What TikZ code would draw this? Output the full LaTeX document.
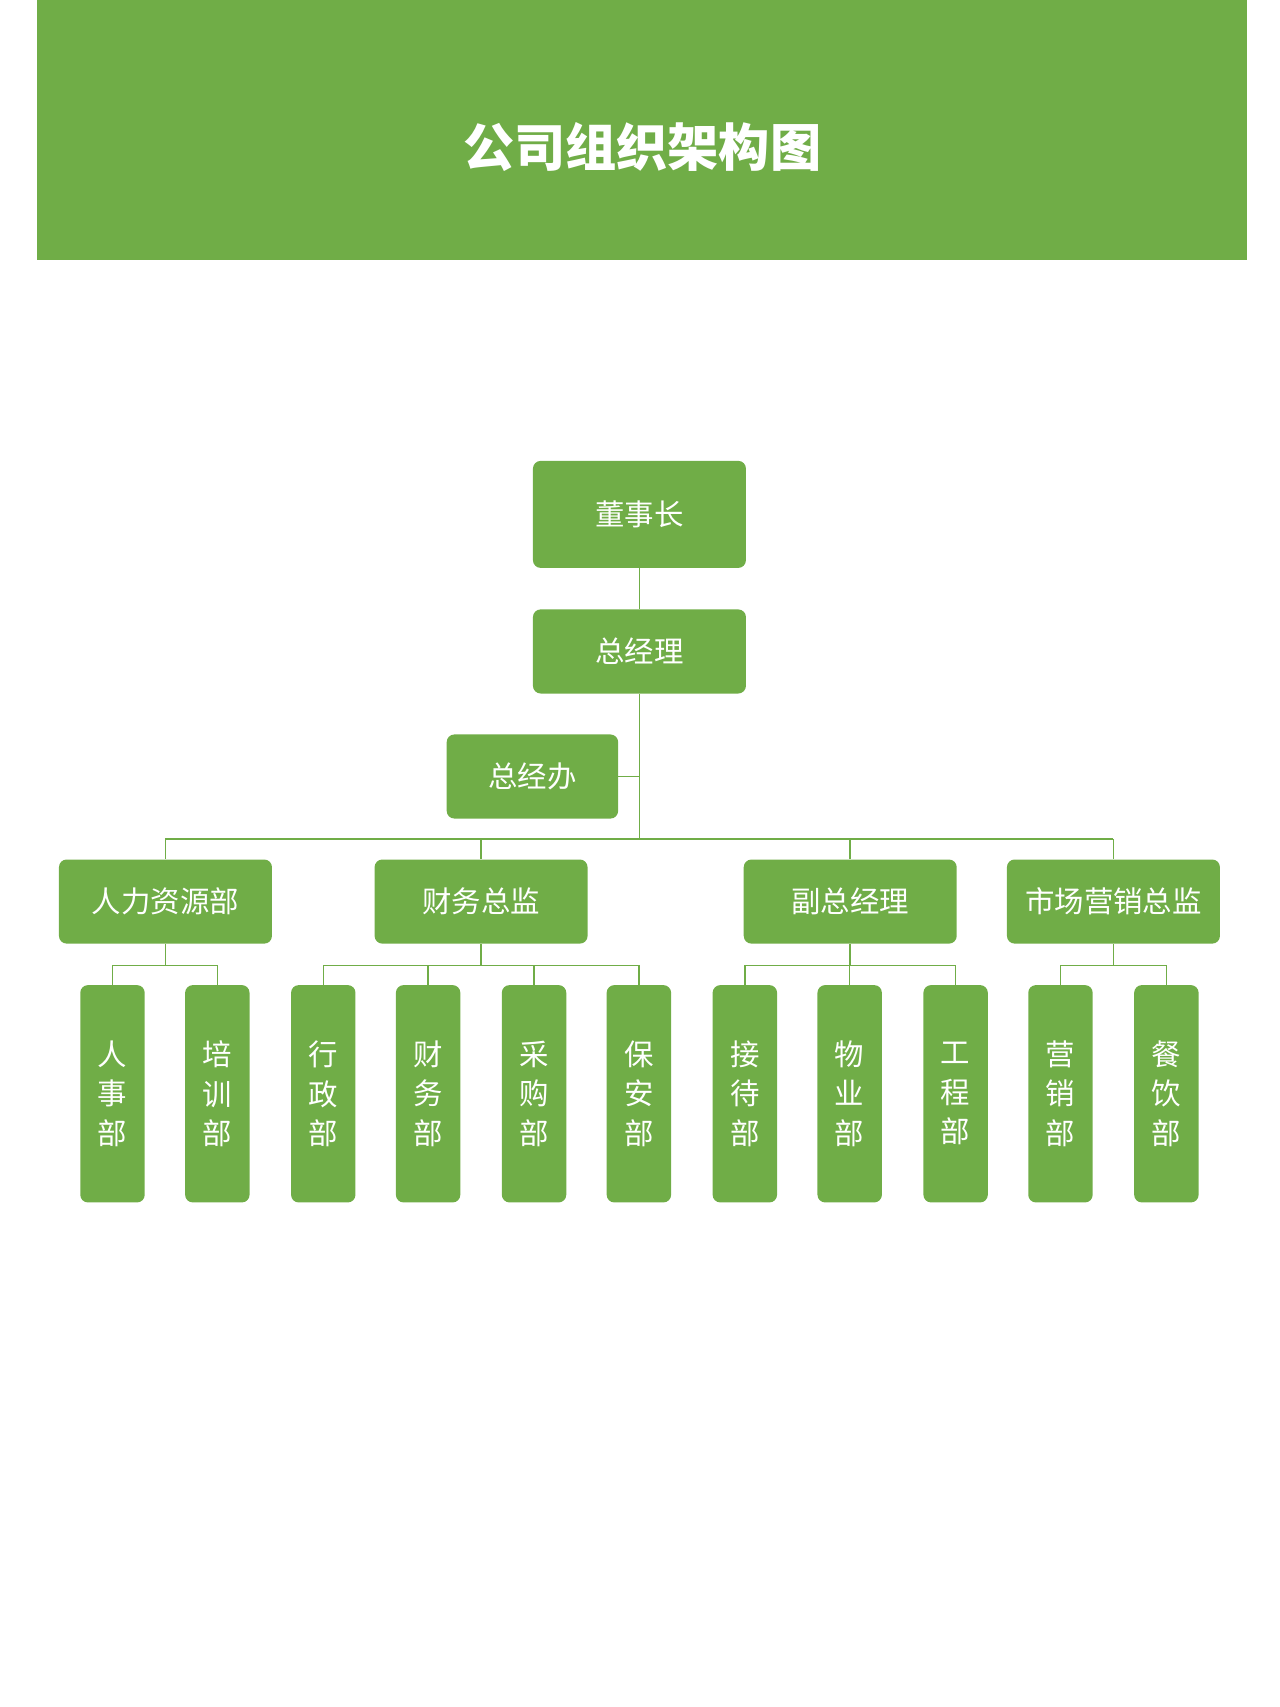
\documentclass[tikz,border=0pt]{standalone}
\usepackage{fontspec}
\setmainfont{Noto Sans CJK SC}
\usetikzlibrary{positioning}
\definecolor{leafgreen}{HTML}{70AD47}
\tikzset{
  orgbox/.style={fill=leafgreen, rounded corners=6pt, text=white, font=\fontsize{23}{27}\selectfont,
    minimum width=5.85cm, minimum height=2.31cm, inner sep=0pt},
  deptbox/.style={orgbox, minimum width=1.77cm, minimum height=5.97cm, align=center,
    font=\fontsize{23}{31}\selectfont},
  link/.style={leafgreen, line width=1.2pt}
}
\begin{document}
\begin{tikzpicture}[x=0.03cm, y=-0.03cm]
  \useasboundingbox (0,0) rectangle (1172,1563);
  \fill[leafgreen] (34,0) rectangle (1142,238);
  \node[text=white, font=\fontsize{40}{46}\selectfont\bfseries] (title) at (588,135) {公司组织架构图};

  % top levels
  \node[orgbox, minimum height=2.94cm] (dsz) at (585.5,471) {董事长};
  \node[orgbox] (zjl) at (585.5,596.5) {总经理};
  \node[orgbox, minimum width=4.71cm] (zjb) at (487.5,711) {总经办};
  \coordinate (bus) at (585.5,768);
  \draw[link] (dsz) -- (zjl);
  \draw[link] (zjl) -- (bus);
  \draw[link] (zjb.east) -- (zjl.south |- zjb.east);

  % second level
  \node[orgbox] (rl) at (151.5,825.5) {人力资源部};
  \node[orgbox] (cw) at (440.5,825.5) {财务总监};
  \node[orgbox] (fz) at (778.5,825.5) {副总经理};
  \node[orgbox] (sc) at (1019.5,825.5) {市场营销总监};
  \draw[link] (rl.north |- bus) -- (sc.north |- bus);
  \foreach \n in {rl,cw,fz,sc}
    \draw[link] (\n.north |- bus) -- (\n.north);

  % departments
  \foreach \n/\x/\t in {rs/103/人\\事\\部, px/199/培\\训\\部, xz/296/行\\政\\部, cwb/392/财\\务\\部,
      cg/489/采\\购\\部, ba/585/保\\安\\部, jd/682/接\\待\\部, wy/778/物\\业\\部,
      gc/875/工\\程\\部, yx/971/营\\销\\部, cy/1068/餐\\饮\\部}
    \node[deptbox] (\n) at (\x,1001.5) {\t};

  \foreach \p/\a/\b/\kids in {rl/rs/px/{rs,px}, cw/xz/ba/{xz,cwb,cg,ba}, fz/jd/gc/{jd,wy,gc}, sc/yx/cy/{yx,cy}} {
    \coordinate (\p-bus) at ([yshift=-19\pgflinewidth]\p.south);
    \draw[link] (\p.south) -- (\p.south |- 0,884);
    \draw[link] (\a.north |- 0,884) -- (\b.north |- 0,884);
    \foreach \k in \kids
      \draw[link] (\k.north |- 0,884) -- (\k.north);
  }
\end{tikzpicture}
\end{document}
